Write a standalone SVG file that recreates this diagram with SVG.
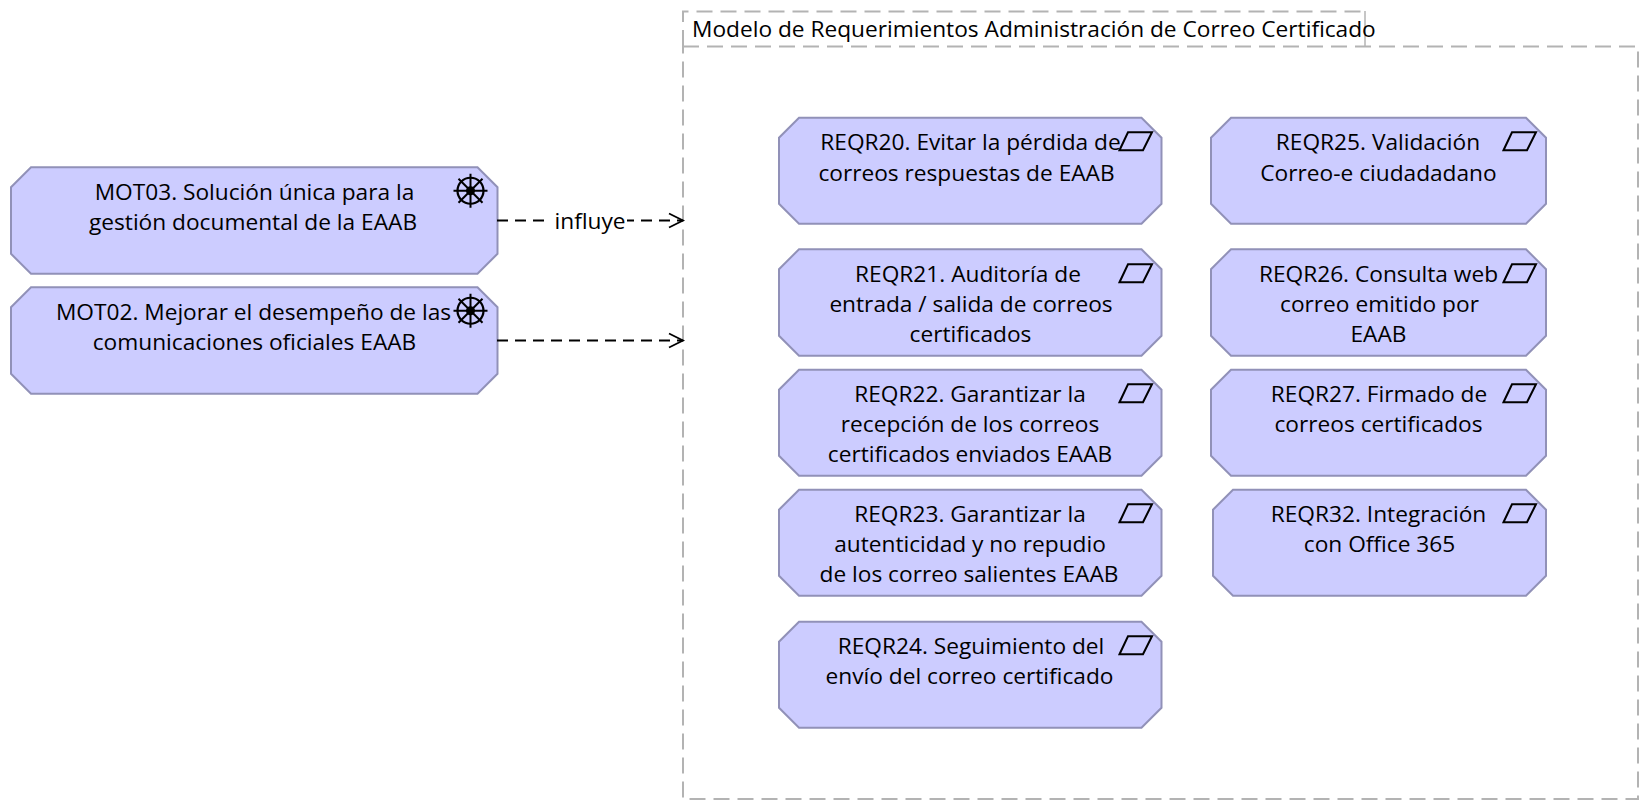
<svg xmlns="http://www.w3.org/2000/svg" width="1652" height="812" viewBox="0 0 1652 812">
<style>
.n{fill:#ccccff;stroke:#9191b8;stroke-width:2}
.t{font-family:"Open Sans","Noto Sans",sans-serif;font-size:22.700px;fill:#000;text-anchor:middle}
.c{fill:none;stroke:#b3b3b3;stroke-width:2;stroke-dasharray:16 8}
.i{fill:none;stroke:#000;stroke-width:2}
.e{fill:none;stroke:#000;stroke-width:2;stroke-dasharray:11 7}
</style>
<defs>
<marker id="a" markerWidth="20" markerHeight="18" refX="17" refY="9" orient="auto" markerUnits="userSpaceOnUse"><path d="M3 2L17 9L3 16" fill="none" stroke="#000" stroke-width="1.800"/></marker>
<g id="wheel"><circle r="13" fill="none" stroke="#000" stroke-width="2.200"/><path d="M-17 0H17M0-17V17M-12-12L12 12M-12 12L12-12" class="i"/><circle r="4.500"/></g>
<path id="para" class="i" d="M-15 9L-6.500-9H17.500L8.500 9Z"/>
</defs>
<g id="container">
<path class="c" d="M683 46V11.500H1364"/>
<path d="M1365 11V46" fill="none" stroke="#b3b3b3" stroke-width="1.500"/>
<path class="c" d="M683 46.500H1638V799H683Z"/>
<text class="t" x="692" y="37" style="text-anchor:start">Modelo de Requerimientos Administración de Correo Certificado</text>
</g>
<g transform="translate(.5 .75)">
<g id="MOT03"><path class="n" d="M30.500 166.500H477L497 186.500V253L477 273H30.500L10.500 253V186.500Z"/><use href="#wheel" x="470" y="190"/><text class="t" x="254" y="199">MOT03. Solución única para la</text><text class="t" x="252.500" y="229">gestión documental de la EAAB</text></g>
<g id="MOT02"><path class="n" d="M30.500 286.500H477L497 306.500V373L477 393H30.500L10.500 373V306.500Z"/><use href="#wheel" x="470" y="310"/><text class="t" x="253" y="319">MOT02. Mejorar el desempeño de las</text><text class="t" x="254" y="349">comunicaciones oficiales EAAB</text></g>
<g id="REQR20"><path class="n" d="M798.500 117H1141L1161 137V203L1141 223H798.500L778.500 203V137Z"/><use href="#para" x="1134" y="140.500"/><text class="t" x="970" y="149">REQR20. Evitar la pérdida de</text><text class="t" x="966" y="180">correos respuestas de EAAB</text></g>
<g id="REQR21"><path class="n" d="M798.500 248.500H1141L1161 268.500V335L1141 355H798.500L778.500 335V268.500Z"/><use href="#para" x="1134" y="272.500"/><text class="t" x="967.500" y="281">REQR21. Auditoría de</text><text class="t" x="970.500" y="311">entrada / salida de correos</text><text class="t" x="970" y="341">certificados</text></g>
<g id="REQR22"><path class="n" d="M798.500 369H1141L1161 389V455L1141 475H798.500L778.500 455V389Z"/><use href="#para" x="1134" y="392.500"/><text class="t" x="969.500" y="401">REQR22. Garantizar la</text><text class="t" x="969.500" y="431">recepción de los correos</text><text class="t" x="969.500" y="461">certificados enviados EAAB</text></g>
<g id="REQR23"><path class="n" d="M798.500 489H1141L1161 509V575L1141 595H798.500L778.500 575V509Z"/><use href="#para" x="1134" y="512.500"/><text class="t" x="969.500" y="521">REQR23. Garantizar la</text><text class="t" x="969.500" y="551">autenticidad y no repudio</text><text class="t" x="968.500" y="581">de los correo salientes EAAB</text></g>
<g id="REQR24"><path class="n" d="M798.500 621H1141L1161 641V707L1141 727H798.500L778.500 707V641Z"/><use href="#para" x="1134" y="644.500"/><text class="t" x="970.500" y="653">REQR24. Seguimiento del</text><text class="t" x="969" y="683">envío del correo certificado</text></g>
<g id="REQR25"><path class="n" d="M1230.500 117H1525.500L1545.500 137V203L1525.500 223H1230.500L1210.500 203V137Z"/><use href="#para" x="1518" y="140.500"/><text class="t" x="1377.500" y="149">REQR25. Validación</text><text class="t" x="1378" y="180">Correo-e ciudadadano</text></g>
<g id="REQR26"><path class="n" d="M1230.500 248.500H1525.500L1545.500 268.500V335L1525.500 355H1230.500L1210.500 335V268.500Z"/><use href="#para" x="1518" y="272.500"/><text class="t" x="1378" y="281">REQR26. Consulta web</text><text class="t" x="1379" y="311">correo emitido por</text><text class="t" x="1378" y="341">EAAB</text></g>
<g id="REQR27"><path class="n" d="M1230.500 369H1525.500L1545.500 389V455L1525.500 475H1230.500L1210.500 455V389Z"/><use href="#para" x="1518" y="392.500"/><text class="t" x="1378.500" y="401">REQR27. Firmado de</text><text class="t" x="1378" y="431">correos certificados</text></g>
<g id="REQR32"><path class="n" d="M1232.500 489H1525.500L1545.500 509V575L1525.500 595H1232.500L1212.500 575V509Z"/><use href="#para" x="1518" y="512.500"/><text class="t" x="1378" y="521">REQR32. Integración</text><text class="t" x="1379" y="551">con Office 365</text></g>
</g>
<g id="connectors">
<path class="e" d="M497 220.500H683" marker-end="url(#a)"/>
<path class="e" d="M497 340.500H683" marker-end="url(#a)"/>
<rect x="550" y="208" width="77" height="26" fill="#fff"/>
<text class="t" x="590" y="229">influye</text>
</g>
</svg>
